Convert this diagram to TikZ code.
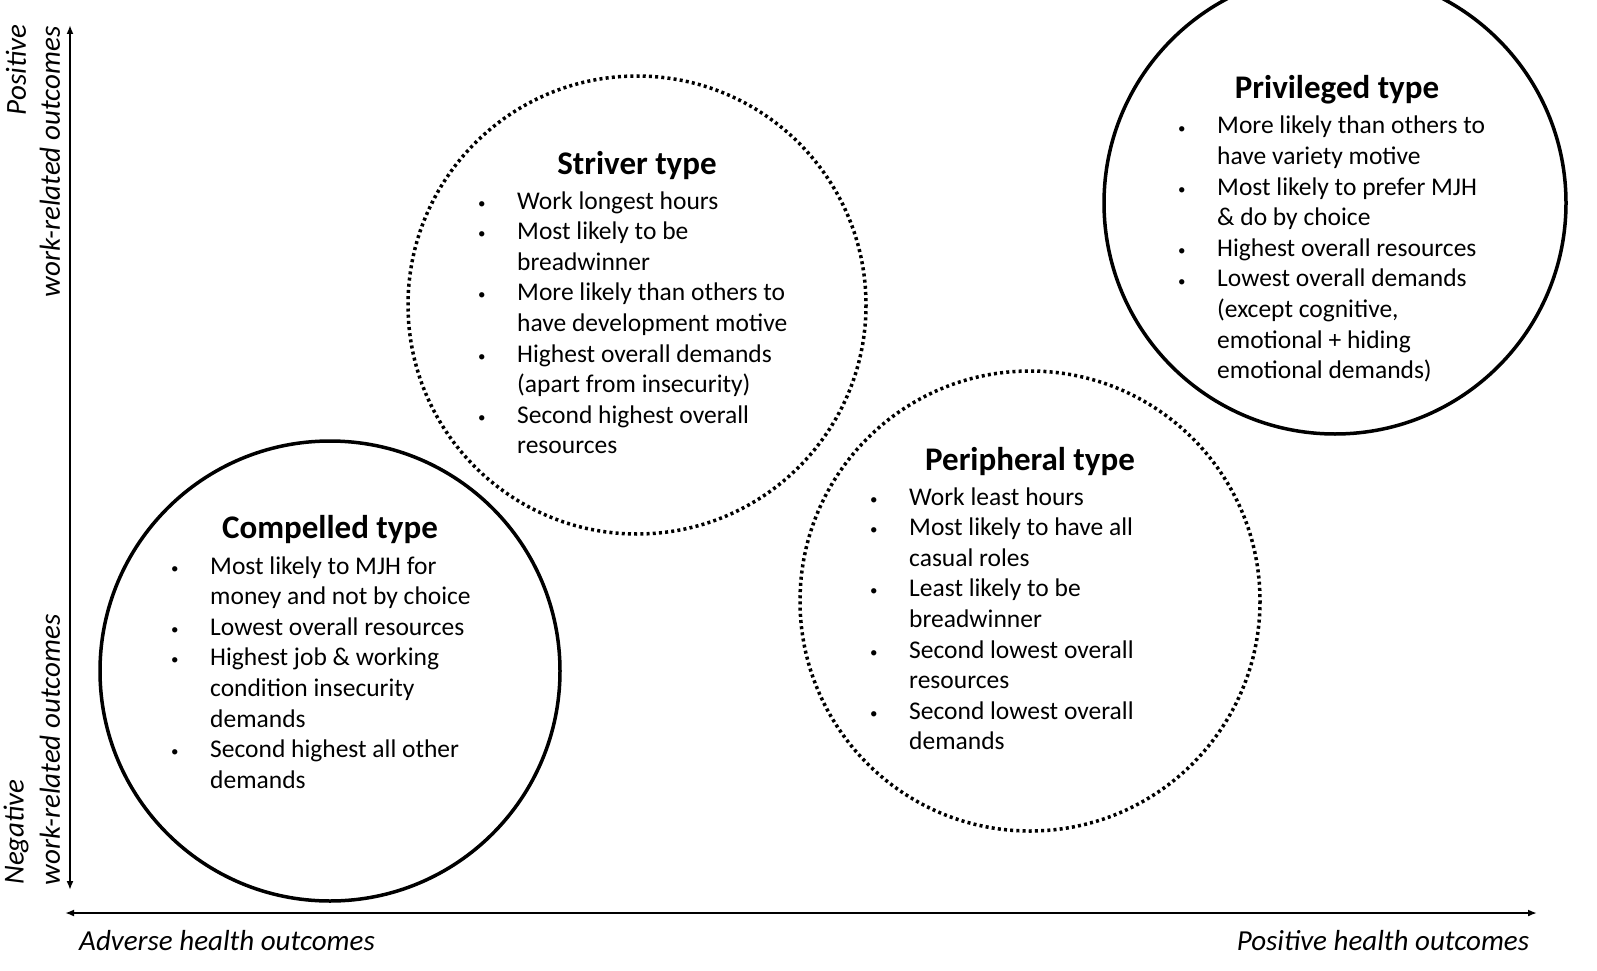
\documentclass[tikz,border=0pt]{standalone}
\usepackage{fontspec}
\setmainfont{Carlito}
\usetikzlibrary{arrows.meta}
\newcommand{\bl}{\raisebox{1pt}{\fontsize{15}{15}\selectfont\textbullet}}
\begin{document}
\begin{tikzpicture}[x=1pt,y=-1pt,
  solidc/.style={line width=3.5pt},
  dotc/.style={line width=3.5pt,dash pattern=on 3pt off 3.2pt},
  ttl/.style={font=\fontsize{33}{34}\selectfont\bfseries},
  lst/.style={anchor=base west,inner sep=0pt,font=\fontsize{25.5}{30.6}\selectfont},
  axl/.style={font=\fontsize{29}{30}\selectfont\itshape,inner sep=0pt},
  ax/.style={line width=2pt,{Latex[length=9pt,width=7pt]}-{Latex[length=9pt,width=7pt]}}]
\begin{scope}
\clip (0,0) rectangle (1597,971);
\draw[solidc] (330,671) circle (230);
\draw[dotc] (637,305) circle (229);
\draw[dotc] (1030,601) circle (230);
\draw[solidc] (1335,203) circle (231);
\end{scope}
\coordinate (vt) at (70,25); \coordinate (vb) at (70,890);
\coordinate (hl) at (65,913); \coordinate (hr) at (1537,913);
\draw[ax] (vt) -- (vb);
\draw[ax] (hl) -- (hr);
\node[axl,rotate=90] (p1) at (16,70) {Positive};
\node[axl,rotate=90] (p2) at (50,162) {work-related outcomes};
\node[axl,rotate=90] (n1) at (16,832) {Negative};
\node[axl,rotate=90] (n2) at (50,750) {work-related outcomes};
\node[axl] (ah) at (227,941) {Adverse health outcomes};
\node[axl] (ph) at (1383,941) {Positive health outcomes};

\node[ttl] (st) at (637,166) {Striver type};
\node[lst] (sl) at (478,209) {\begin{tabular}[t]{@{}p{39pt}@{}l@{}}
\bl & Work longest hours\\
\bl & Most likely to be\\
 & breadwinner\\
\bl & More likely than others to\\
 & have development motive\\
\bl & Highest overall demands\\
 & (apart from insecurity)\\
\bl & Second highest overall\\
 & resources
\end{tabular}};

\node[ttl] (ct) at (330,530) {Compelled type};
\node[lst] (cl) at (171,574) {\begin{tabular}[t]{@{}p{39pt}@{}l@{}}
\bl & Most likely to MJH for\\
 & money and not by choice\\
\bl & Lowest overall resources\\
\bl & Highest job \& working\\
 & condition insecurity\\
 & demands\\
\bl & Second highest all other\\
 & demands
\end{tabular}};

\node[ttl] (pt) at (1030,462) {Peripheral type};
\node[lst] (pl) at (870,505) {\begin{tabular}[t]{@{}p{39pt}@{}l@{}}
\bl & Work least hours\\
\bl & Most likely to have all\\
 & casual roles\\
\bl & Least likely to be\\
 & breadwinner\\
\bl & Second lowest overall\\
 & resources\\
\bl & Second lowest overall\\
 & demands
\end{tabular}};

\node[ttl] (vt2) at (1337,90) {Privileged type};
\node[lst] (vl) at (1178,134) {\begin{tabular}[t]{@{}p{39pt}@{}l@{}}
\bl & More likely than others to\\
 & have variety motive\\
\bl & Most likely to prefer MJH\\
 & \& do by choice\\
\bl & Highest overall resources\\
\bl & Lowest overall demands\\
 & (except cognitive,\\
 & emotional + hiding\\
 & emotional demands)
\end{tabular}};
\pgfresetboundingbox
\useasboundingbox (0,0) rectangle (1597,971);
\end{tikzpicture}
\end{document}
